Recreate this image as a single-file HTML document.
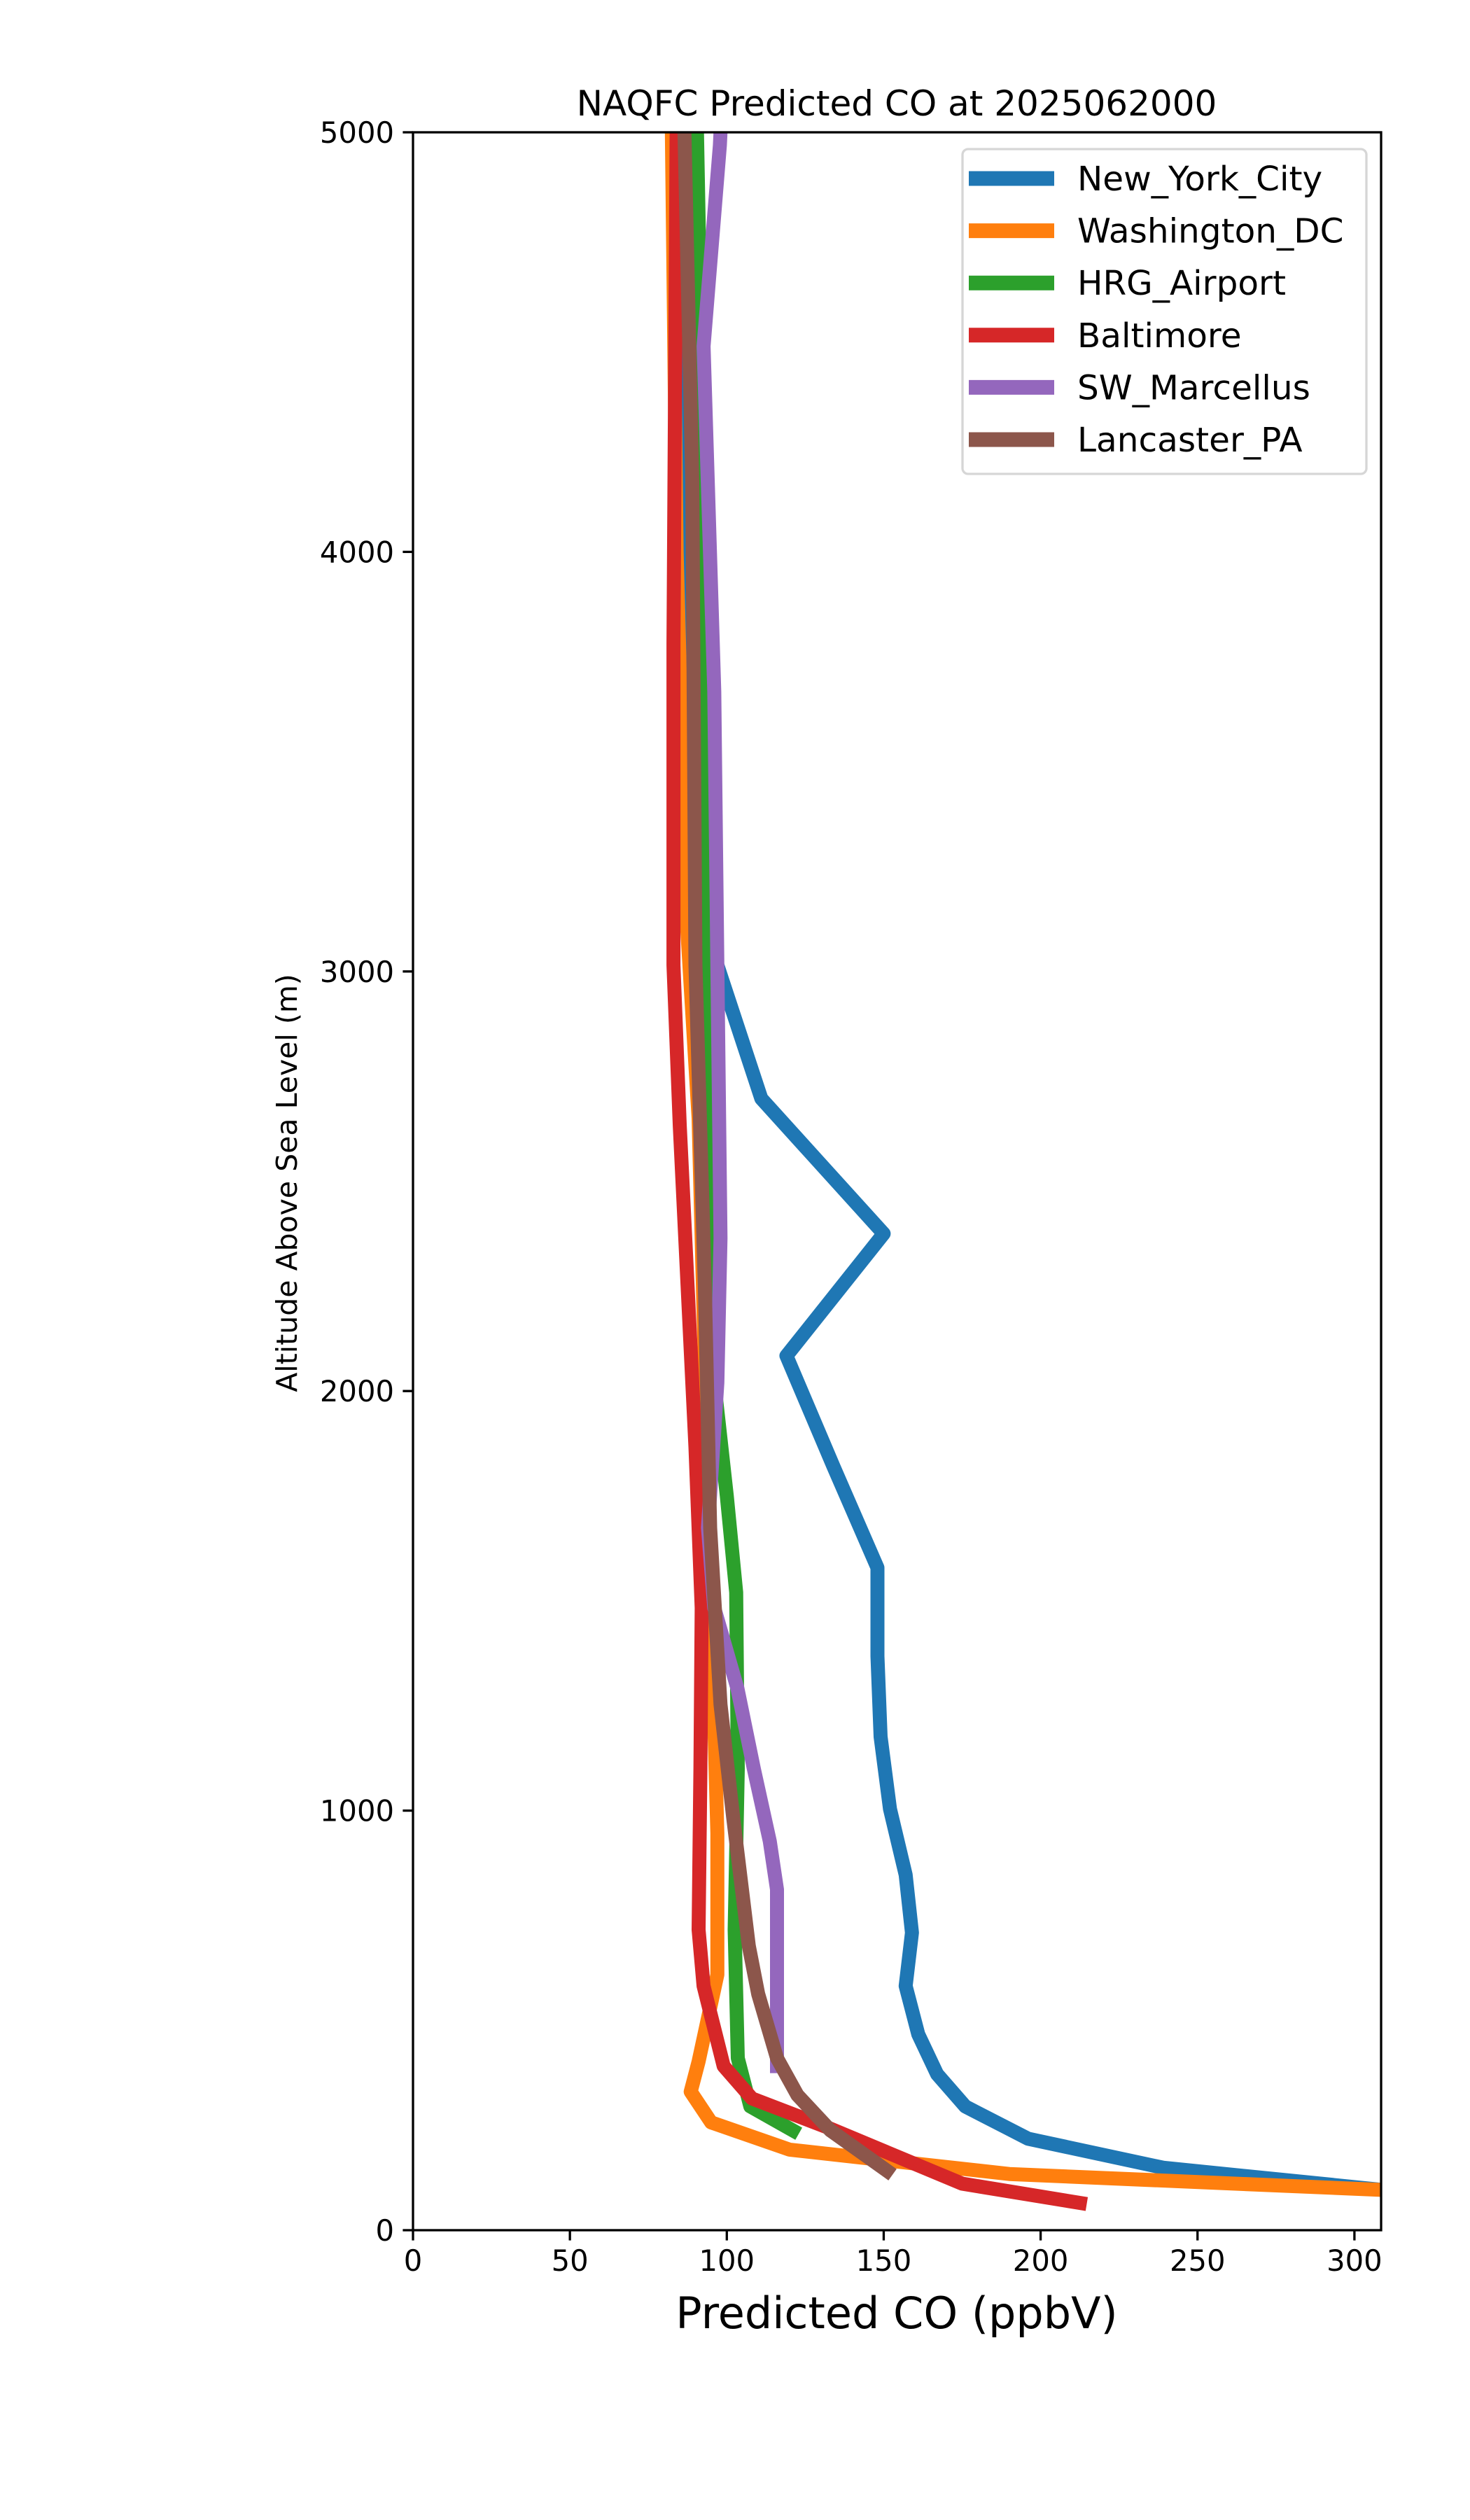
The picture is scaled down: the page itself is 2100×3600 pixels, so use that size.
<!DOCTYPE html>
<html><head><meta charset="utf-8"><title>NAQFC Predicted CO</title>
<style>
html,body{margin:0;padding:0;background:#fff;}
svg{display:block;font-family:"DejaVu Sans","Liberation Sans",sans-serif;}
</style></head>
<body>
<svg id="chart" width="2100" height="3600" viewBox="0 0 2100 3600" xmlns="http://www.w3.org/2000/svg">
<rect x="0" y="0" width="2100" height="3600" fill="#fff"/>
<defs><clipPath id="plotclip"><rect x="590" y="189" width="1383" height="2997"/></clipPath></defs>
<g id="series" clip-path="url(#plotclip)"></g>
<g id="axes"></g>
<text x="1281" y="165" font-size="50" text-anchor="middle">NAQFC Predicted CO at 2025062000</text>
<text x="1281" y="3326" font-size="62" text-anchor="middle">Predicted CO (ppbV)</text>
<text transform="translate(424,1690) rotate(-90)" font-size="41" text-anchor="middle">Altitude Above Sea Level (m)</text>
<g id="legend"></g>
</svg>
<script>
const seriesNames = ["New_York_City","Washington_DC","HRG_Airport","Baltimore","SW_Marcellus","Lancaster_PA"];
const seriesColors = ["#1f77b4","#ff7f0e","#2ca02c","#d62728","#9467bd","#8c564b"];
const xTicks = [0,50,100,150,200,250,300];
const yTicks = [0,1000,2000,3000,4000,5000];
const nycCO = [309,239,196,176,167,161,157,159,157,152,149,148,148,134,119,150,111,97,88,87,86];
const nycAlt = [96,149,218,295,372,467,582,709,847,1004,1176,1368,1579,1820,2084,2375,2697,3015,3245,4000,5000];
const dcCO = [309,190,120,95,88.5,91,97,97,95,91,87,84,82.5];
const dcAlt = [96,134,192,257,330,402,609,946,1480,2650,3150,4000,5000];
const hrgCO = [121,107.5,103.5,102.5,103.5,103,100,96,94,93,90.5];
const hrgAlt = [238,295,410,716,1100,1520,1750,2020,3000,4000,5000];
const baltCO = [212.5,175,132,108,99,92.6,91,91.6,92,90,87.5,85,83,83,84];
const baltAlt = [65,111,245,314,391,582,716,1100,1483,1866,2249,2632,3015,3782,5000];
const swmCO = [116,116,113.7,108.6,103.4,96,94,97,98,97,96,92.6,97.8,98];
const swmAlt = [391,812,927,1100,1291,1483,1674,2020,2364,3015,3667,4490,4969,5000];
const lanCO = [151,133,122.5,116,110,107,102,98,94.7,93,90,89,86.5];
const lanAlt = [142,238,322,410,563,678,985,1253,1674,2249,3015,4165,5000];
const seriesX = [nycCO,dcCO,hrgCO,baltCO,swmCO,lanCO];
const seriesY = [nycAlt,dcAlt,hrgAlt,baltAlt,swmAlt,lanAlt];

const NS="http://www.w3.org/2000/svg";
const L=590,R=1973,T=189,B=3186,XMAX=308.5,YMAX=5000;
function xs(v){return L+(v/XMAX)*(R-L);}
function ys(v){return B-(v/YMAX)*(B-T);}
function mk(tag,attrs,parent){const e=document.createElementNS(NS,tag);for(const k in attrs)e.setAttribute(k,attrs[k]);parent.appendChild(e);return e;}

const sg=document.getElementById('series');
seriesNames.forEach((n,i)=>{
  const pts=seriesX[i].map((v,j)=>xs(v).toFixed(1)+","+ys(seriesY[i][j]).toFixed(1)).join(" ");
  const p=mk('polyline',{points:pts,fill:"none",stroke:seriesColors[i],"stroke-width":20,"stroke-linejoin":"round","stroke-linecap":"square"},sg);
  
  
});

const ax=document.getElementById('axes');
const frame=mk('rect',{x:L,y:T,width:R-L,height:B-T,fill:"none",stroke:"#000","stroke-width":3.3},ax);


xTicks.forEach(t=>{
  const x=xs(t);
  const tk=mk('line',{x1:x,y1:B,x2:x,y2:B+14.6,stroke:"#000","stroke-width":3.3},ax);
  
  
  const lb=mk('text',{x:x,y:B+58,"font-size":41.7,"text-anchor":"middle"},ax);
  lb.textContent=t;
  
  
});
yTicks.forEach(t=>{
  const y=ys(t);
  const tk=mk('line',{x1:L-14.6,y1:y,x2:L,y2:y,stroke:"#000","stroke-width":3.3},ax);
  
  
  const lb=mk('text',{x:L-27,y:y+15,"font-size":41.7,"text-anchor":"end"},ax);
  lb.textContent=t;
  
  
});

const lg=document.getElementById('legend');
const box=mk('rect',{x:1375,y:213,width:577,height:464,rx:8,fill:"#fff","fill-opacity":0.8,stroke:"#d6d6d6","stroke-width":3.3},lg);


seriesNames.forEach((n,i)=>{
  const cy=255+i*74.6;
  const ln=mk('line',{x1:1384,y1:cy,x2:1506,y2:cy,stroke:seriesColors[i],"stroke-width":21},lg);
  
  
  const tx=mk('text',{x:1539,y:cy+17,"font-size":48.5},lg);
  tx.textContent=n;
  
  
});
</script>
</body></html>
